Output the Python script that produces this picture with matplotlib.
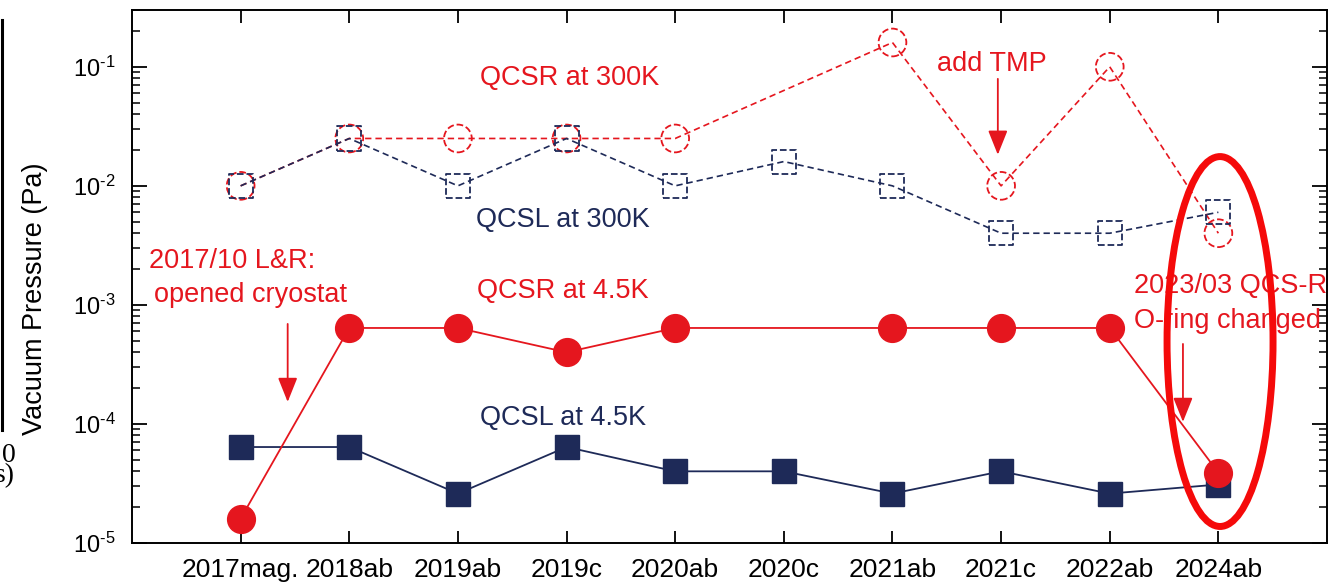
import numpy as np
import matplotlib
matplotlib.use("Agg")
import matplotlib.pyplot as plt
from matplotlib.patches import Ellipse
from matplotlib.lines import Line2D
from matplotlib.ticker import FuncFormatter

plt.rcParams["font.family"] = ["Liberation Sans", "DejaVu Sans"]
plt.rcParams["mathtext.fontset"] = "custom"
plt.rcParams["mathtext.rm"] = "Liberation Sans"

RED = "#E5161E"
NAVY = "#1E2A58"

runs = ["2017mag.", "2018ab", "2019ab", "2019c", "2020ab",
        "2020c", "2021ab", "2021c", "2022ab", "2024ab"]
qcsr_300k = [1.0e-2, 2.5e-2, 2.5e-2, 2.5e-2, 2.5e-2, np.nan, 1.6e-1, 1.0e-2, 1.0e-1, 4.0e-3]
qcsl_300k = [1.0e-2, 2.5e-2, 1.0e-2, 2.5e-2, 1.0e-2, 1.6e-2, 1.0e-2, 4.0e-3, 4.0e-3, 6.0e-3]
qcsr_4k = [1.6e-5, 6.4e-4, 6.4e-4, 4.0e-4, 6.4e-4, np.nan, 6.4e-4, 6.4e-4, 6.4e-4, 3.9e-5]
qcsl_4k = [6.4e-5, 6.4e-5, 2.6e-5, 6.4e-5, 4.0e-5, 4.0e-5, 2.6e-5, 4.0e-5, 2.6e-5, 3.1e-5]

x = np.arange(len(runs))

fig = plt.figure(figsize=(13.3, 5.86), dpi=100)
ax = fig.add_axes([132 / 1330, 43 / 586, 1195 / 1330, 533 / 586])


def series(y):
    y = np.asarray(y, dtype=float)
    m = ~np.isnan(y)
    return x[m], y[m]


dash = (0, (3.8, 2.4))
# 300 K: dashed lines, dashed open markers
xs, ys = series(qcsr_300k)
ax.plot(xs, ys, color=RED, lw=1.2, ls=dash, zorder=2)
ax.scatter(xs, ys, s=400, marker="o", facecolors="none", edgecolors=RED,
           linewidths=1.3, linestyles="--", zorder=3)
xs, ys = series(qcsl_300k)
ax.plot(xs, ys, color=NAVY, lw=1.2, ls=dash, zorder=4)
ax.scatter(xs, ys, s=300, marker="s", facecolors="none", edgecolors=NAVY,
           linewidths=1.3, linestyles="--", zorder=5)

# 4.5 K: solid lines, filled markers
xs, ys = series(qcsl_4k)
ax.plot(xs, ys, color=NAVY, lw=1.3, marker="s", ms=17.5, mfc=NAVY, mec=NAVY, zorder=6)
xs, ys = series(qcsr_4k)
ax.plot(xs, ys, color=RED, lw=1.3, marker="o", ms=20, mfc=RED, mec=RED, zorder=7)

ax.set_yscale("log")
ax.set_ylim(1e-5, 0.3)
ax.set_xlim(-1, 10)
ax.set_xticks(x)
ax.set_xticklabels(runs)
# decade labels with a plain hyphen in the exponent, as in the original
ax.yaxis.set_major_formatter(FuncFormatter(
    lambda v, p: r"$\mathdefault{10^{\text{-}%d}}$" % round(-np.log10(v))))
ax.tick_params(axis="x", which="major", direction="in", length=9, width=1.3,
               top=True, labelsize=19, pad=11)
ax.tick_params(axis="y", which="major", direction="in", length=11, width=1.3,
               right=True, labelsize=17, pad=12)
ax.tick_params(axis="y", which="minor", direction="in", length=6, width=1.1, right=True)
for s in ax.spines.values():
    s.set_linewidth(1.4)

fig.text(35 / 1330, 1 - 299 / 586, "Vacuum Pressure (Pa)", rotation=90,
         ha="center", va="center", fontsize=19.5)

# annotations
kw = dict(fontsize=19.5, va="baseline", zorder=8)
ax.text(3.03, 0.0706, "QCSR at 300K", color=RED, ha="center", **kw)
ax.text(6.915, 0.0925, "add TMP", color=RED, ha="center", **kw)
ax.text(2.97, 0.00452, "QCSL at 300K", color=NAVY, ha="center", **kw)
ax.text(-0.847, 0.002047, "2017/10 L&R:", color=RED, ha="left", **kw)
ax.text(-0.801, 0.001059, "opened cryostat", color=RED, ha="left", **kw)
ax.text(2.97, 0.001146, "QCSR at 4.5K", color=RED, ha="center", **kw)
ax.text(2.97, 9.8e-5, "QCSL at 4.5K", color=NAVY, ha="center", **kw)
ax.text(8.223, 0.001262, "2023/03 QCS-R", color=RED, ha="left", **kw)
ax.text(8.223, 6.41e-4, "O-ring changed", color=RED, ha="left", **kw)

arrow = dict(arrowstyle="-|>,head_length=1.5,head_width=0.6", color=RED,
             lw=1.3, mutation_scale=10, shrinkA=0, shrinkB=0)
ax.annotate("", xy=(6.97, 0.01825), xytext=(6.97, 0.0792), arrowprops=arrow, zorder=8)
ax.annotate("", xy=(0.433, 1.53e-4), xytext=(0.433, 6.92e-4), arrowprops=arrow, zorder=8)
ax.annotate("", xy=(8.674, 1.04e-4), xytext=(8.674, 4.7e-4), arrowprops=arrow, zorder=8)

ax.add_patch(Ellipse((0.9105, 0.378), 0.0887, 0.694, transform=ax.transAxes,
                     fill=False, edgecolor="#F50A0A", lw=5, zorder=9, clip_on=False))

# fragment of the neighbouring figure cut at the left edge
fig.add_artist(Line2D([1.5 / 1330, 1.5 / 1330], [1 - 20 / 586, 1 - 430 / 586],
                      color="black", lw=2.2))
fig.text(8.5 / 1330, 1 - 462 / 586, "0", family="Liberation Serif", fontsize=20,
         ha="center", va="baseline")
fig.text(15 / 1330, 1 - 482 / 586, "s)", family="Liberation Serif", fontsize=20,
         ha="right", va="baseline")

fig.savefig("out.png", dpi=100)
